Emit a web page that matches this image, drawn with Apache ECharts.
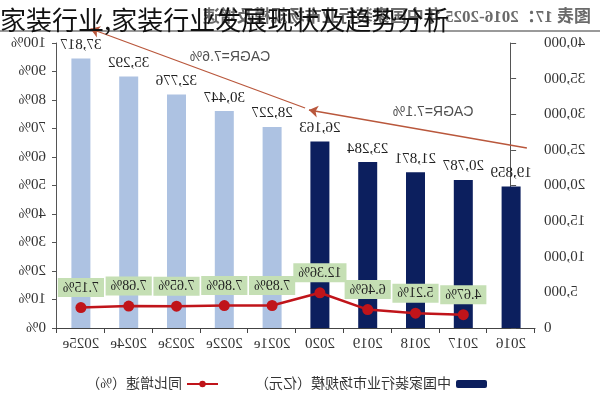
<!DOCTYPE html>
<html>
<head>
<meta charset="utf-8">
<script src="https://cdn.jsdelivr.net/npm/echarts@6/dist/echarts.min.js"></script>
<style>
html,body{margin:0;padding:0;background:#fff;}
#wrap{position:relative;width:600px;height:400px;overflow:hidden;}
#chart{position:absolute;left:0;top:0;width:600px;height:400px;transform:scaleX(-1);}
#overlay{position:absolute;left:0;top:3px;font-family:"Noto Sans CJK SC",sans-serif;font-size:26px;line-height:32px;color:#111;white-space:nowrap;}
</style>
</head>
<body>
<div id="wrap">
<div id="chart"></div>
<div id="overlay">家装行业,家装行业发展现状及趋势分析</div>
</div>
<script>
// ---- data ----
var categories = ['2016','2017','2018','2019','2020','2021e','2022e','2023e','2024e','2025e'];
var marketSize = [19859, 20787, 21871, 23284, 26163, 28227, 30447, 32776, 35292, 37817];
var growthRate = [null, 4.67, 5.21, 6.46, 12.36, 7.89, 7.86, 7.65, 7.68, 7.15];
var seriesNames = ['中国家装行业市场规模（亿元）', '同比增速（%）'];
var chartTitle = '图表 17：2016-2025 年中国家装行业市场规模及增速';
var cagrLabels = ['CAGR=7.1%', 'CAGR=7.6%'];
var valueTicks = [0, 5000, 10000, 15000, 20000, 25000, 30000, 35000, 40000];
var percentTicks = [0, 10, 20, 30, 40, 50, 60, 70, 80, 90, 100];

var navy = '#0c1f5e', light = '#adc2e2', red = '#c0141a';
var serif = '"Liberation Serif","Noto Sans CJK SC",serif';

var chart = echarts.init(document.getElementById('chart'), null, {renderer: 'canvas'});

var barData = marketSize.map(function (v, i) {
  var forecast = /e$/.test(categories[i]);
  return {value: v, itemStyle: {color: forecast ? light : navy}};
});

var option = {
  animation: false,
  title: {
    text: chartTitle, left: 4, top: 4,
    textStyle: {fontSize: 17, fontWeight: 'bold', color: '#6a6a6a', fontFamily: serif}
  },
  graphic: [{type: 'rect', left: 0, top: 30, shape: {width: 600, height: 2}, style: {fill: '#9a9a9a'}}],
  legend: {
    data: seriesNames, left: 108, top: 372, itemGap: 36, itemWidth: 31, itemHeight: 8,
    textStyle: {fontSize: 14, color: '#333', fontFamily: serif}
  },
  grid: {left: 65, right: 57, top: 43, bottom: 72},
  xAxis: [{
    type: 'category', data: categories,
    axisLine: {lineStyle: {color: '#444'}},
    axisTick: {show: true, length: 5, lineStyle: {color: '#444'}},
    axisLabel: {fontSize: 15, color: '#333', fontFamily: serif, margin: 9}
  }, {
    type: 'value', min: -0.5, max: 9.5, show: false
  }],
  yAxis: [{
    type: 'value', min: valueTicks[0], max: valueTicks[valueTicks.length - 1], interval: 5000,
    splitLine: {show: false},
    axisLine: {show: true, lineStyle: {color: '#555'}},
    axisTick: {show: true, length: 5, lineStyle: {color: '#555'}},
    axisLabel: {fontSize: 15, color: '#333', fontFamily: serif, margin: 9,
      formatter: function (v) { return v.toLocaleString('en-US'); }}
  }, {
    type: 'value', min: percentTicks[0], max: percentTicks[percentTicks.length - 1], interval: 10,
    splitLine: {show: false},
    axisLine: {show: true, lineStyle: {color: '#555'}},
    axisTick: {show: true, length: 5, lineStyle: {color: '#555'}},
    axisLabel: {fontSize: 15, color: '#333', fontFamily: serif, margin: 11, formatter: '{value}%'}
  }],
  series: [{
    name: seriesNames[0], type: 'bar', data: barData, barWidth: 19,
    itemStyle: {color: navy},
    label: {show: true, position: 'top', distance: 6, fontSize: 15, color: '#222', fontFamily: serif,
      formatter: function (p) { return p.value.toLocaleString('en-US'); }}
  }, {
    name: seriesNames[1], type: 'line', yAxisIndex: 1, data: growthRate,
    symbol: 'circle', symbolSize: 11, connectNulls: false,
    lineStyle: {color: red, width: 2.5}, itemStyle: {color: red},
    label: {show: true, position: 'top', distance: 5, fontSize: 14, color: '#222', fontFamily: serif,
      backgroundColor: '#c5dfb4', padding: [3, 5, 2, 5],
      formatter: function (p) { return p.value.toFixed(2) + '%'; }},
    z: 5
  }, {
    type: 'lines', coordinateSystem: 'cartesian2d', xAxisIndex: 1, yAxisIndex: 0,
    symbol: ['none', 'arrow'], symbolSize: 9, silent: true, clip: false,
    lineStyle: {color: '#b9573c', width: 1.3, opacity: 1, curveness: 0},
    data: [
      {coords: [[-0.33, 25263], [4.23, 30596]]},
      {coords: [[4.31, 30877], [8.8, 42000]]}
    ]
  }, {
    type: 'scatter', xAxisIndex: 1, yAxisIndex: 0, symbolSize: 1, silent: true,
    itemStyle: {color: 'rgba(0,0,0,0)'},
    data: [[1.63, 30316], [5.88, 38035]],
    label: {show: true, position: 'inside', fontSize: 14, color: '#222',
      fontFamily: '"Liberation Sans",Arial,sans-serif',
      formatter: function (p) { return cagrLabels[p.dataIndex]; }}
  }]
};
chart.setOption(option);
</script>
</body>
</html>
